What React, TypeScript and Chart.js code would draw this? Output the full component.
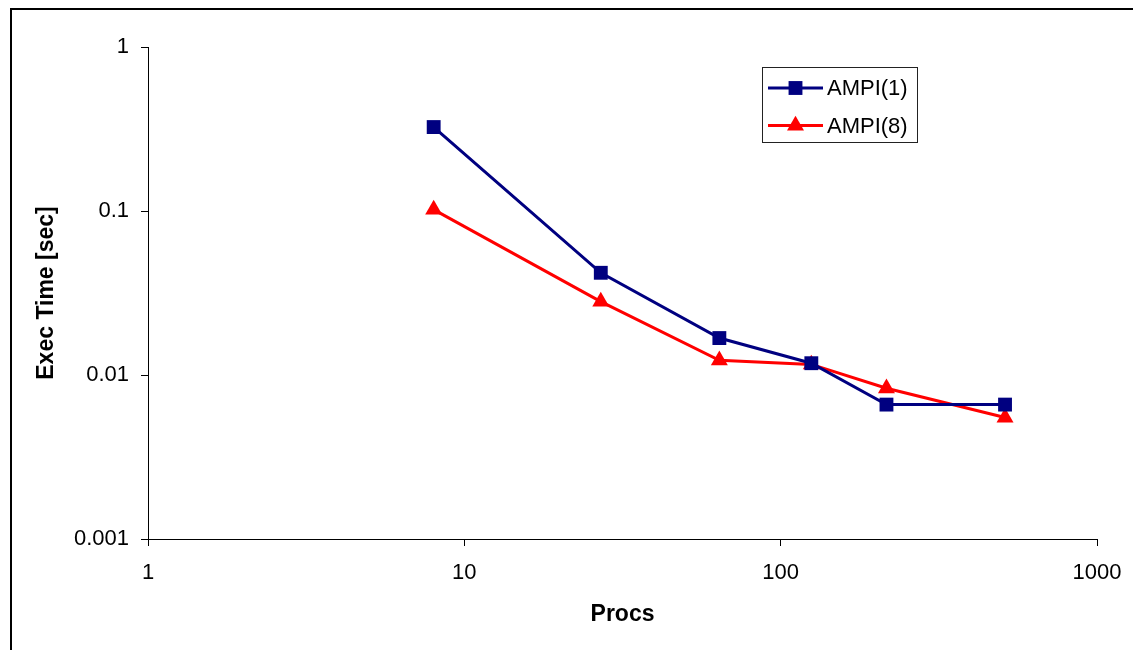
import React, { useEffect, useRef } from "react";
import { Chart, registerables } from "chart.js";

Chart.register(...registerables);

// ---- data ----
const procs = [8, 27, 64, 125, 216, 512];
const ampi1 = [0.325, 0.042, 0.0168, 0.0118, 0.0066, 0.0066];
const ampi8 = [0.102, 0.028, 0.0123, 0.0116, 0.0083, 0.0055];
const seriesNames = ["AMPI(1)", "AMPI(8)"];
const xTickValues = [1, 10, 100, 1000];
const xTickLabels = ["1", "10", "100", "1000"];
const yTickValues = [0.001, 0.01, 0.1, 1];
const yTickLabels = ["0.001", "0.01", "0.1", "1"];
const xTitle = "Procs";
const yTitle = "Exec Time [sec]";

const FONT = "'Liberation Sans', Arial, Helvetica, sans-serif";
const W = 1133;
const H = 650;

const framePlugin = {
  id: "frame",
  beforeDraw(chart: any) {
    const ctx = chart.ctx;
    ctx.save();
    ctx.fillStyle = "#fff";
    ctx.fillRect(0, 0, chart.width, chart.height);
    ctx.fillStyle = "#000";
    ctx.fillRect(10, 8, 2, chart.height);
    ctx.fillRect(10, 8, chart.width, 2);
    ctx.restore();
  },
};

function drawMarker(ctx: CanvasRenderingContext2D, style: string, x: number, y: number, r: number, color: string) {
  ctx.fillStyle = color;
  ctx.beginPath();
  if (style === "rect") {
    const s = r * Math.SQRT1_2;
    ctx.rect(x - s, y - s, 2 * s, 2 * s);
  } else {
    ctx.moveTo(x, y - r);
    ctx.lineTo(x + (Math.sqrt(3) / 2) * r, y + r / 2);
    ctx.lineTo(x - (Math.sqrt(3) / 2) * r, y + r / 2);
    ctx.closePath();
  }
  ctx.fill();
}

const boxLegendPlugin = {
  id: "boxLegend",
  afterDraw(chart: any) {
    const ctx: CanvasRenderingContext2D = chart.ctx;
    const bx = 762;
    const by = 67;
    const bw = 155;
    const bh = 75;
    ctx.save();
    ctx.fillStyle = "#fff";
    ctx.fillRect(bx, by, bw, bh);
    ctx.strokeStyle = "#222";
    ctx.lineWidth = 1;
    ctx.strokeRect(bx + 0.5, by + 0.5, bw, bh);
    chart.data.datasets.forEach((ds: any, i: number) => {
      const y = by + 21 + i * 37.5;
      ctx.strokeStyle = ds.borderColor;
      ctx.lineWidth = 3;
      ctx.beginPath();
      ctx.moveTo(bx + 6, y);
      ctx.lineTo(bx + 61, y);
      ctx.stroke();
      drawMarker(ctx, ds.pointStyle, bx + 33.5, y, ds.pointRadius, ds.backgroundColor);
      ctx.fillStyle = "#000";
      ctx.font = `22px ${FONT}`;
      ctx.textBaseline = "middle";
      ctx.textAlign = "left";
      ctx.fillText(ds.label, bx + 65, y + 1);
    });
    ctx.restore();
  },
};

export default function App() {
  const canvasRef = useRef<HTMLCanvasElement | null>(null);

  useEffect(() => {
    if (!canvasRef.current) return;
    const chart = new Chart(canvasRef.current, {
      type: "line",
      data: {
        datasets: [
          {
            label: seriesNames[0],
            data: procs.map((p, i) => ({ x: p, y: ampi1[i] })),
            borderColor: "#000080",
            backgroundColor: "#000080",
            borderWidth: 3,
            pointStyle: "rect",
            pointRadius: 9.8,
            pointBorderWidth: 0,
            pointBackgroundColor: "#000080",
            tension: 0,
          },
          {
            label: seriesNames[1],
            data: procs.map((p, i) => ({ x: p, y: ampi8[i] })),
            borderColor: "#ff0000",
            backgroundColor: "#ff0000",
            borderWidth: 3,
            pointStyle: "triangle",
            pointRadius: 9.8,
            pointBorderWidth: 0,
            pointBackgroundColor: "#ff0000",
            tension: 0,
          },
        ],
      },
      options: {
        animation: false,
        responsive: false,
        devicePixelRatio: 1,
        events: [],
        layout: { padding: { top: 47, right: 36, left: 0, bottom: 0 } },
        plugins: {
          legend: { display: false },
          tooltip: { enabled: false },
        },
        scales: {
          x: {
            type: "logarithmic",
            min: 1,
            max: 1000,
            afterBuildTicks: (scale: any) => {
              scale.ticks = xTickValues.map((v) => ({ value: v }));
            },
            afterFit: (scale: any) => {
              scale.height = 111;
              scale.paddingLeft = 0;
              scale.paddingRight = 0;
            },
            ticks: {
              autoSkip: false,
              maxRotation: 0,
              padding: 14,
              color: "#000",
              font: { family: FONT, size: 22 },
              callback: (_v: any, i: number) => xTickLabels[i],
            },
            grid: {
              display: true,
              drawOnChartArea: false,
              drawTicks: true,
              tickLength: 7,
              color: "#000",
              lineWidth: 1,
            },
            border: { display: true, color: "#000", width: 1 },
            title: {
              display: true,
              text: xTitle,
              color: "#000",
              font: { family: FONT, size: 23, weight: "bold" },
              padding: { top: 0, bottom: 22 },
            },
          },
          y: {
            type: "logarithmic",
            min: 0.001,
            max: 1,
            afterBuildTicks: (scale: any) => {
              scale.ticks = yTickValues.map((v) => ({ value: v }));
            },
            afterFit: (scale: any) => {
              scale.width = 148;
              scale.paddingTop = 0;
              scale.paddingBottom = 0;
            },
            ticks: {
              autoSkip: false,
              padding: 12,
              color: "#000",
              font: { family: FONT, size: 22 },
              callback: (_v: any, i: number) => yTickLabels[i],
            },
            grid: {
              display: true,
              drawOnChartArea: false,
              drawTicks: true,
              tickLength: 7,
              color: "#000",
              lineWidth: 1,
            },
            border: { display: true, color: "#000", width: 1 },
            title: {
              display: true,
              text: yTitle,
              color: "#000",
              font: { family: FONT, size: 23, weight: "bold" },
              padding: { top: 33, bottom: 0 },
            },
          },
        },
      } as any,
      plugins: [framePlugin, boxLegendPlugin],
    });
    return () => chart.destroy();
  }, []);

  return (
    <div style={{ position: "fixed", left: 0, top: 0, width: W, height: H, background: "#fff" }}>
      <canvas ref={canvasRef} width={W} height={H} style={{ display: "block", width: W, height: H }} />
    </div>
  );
}
